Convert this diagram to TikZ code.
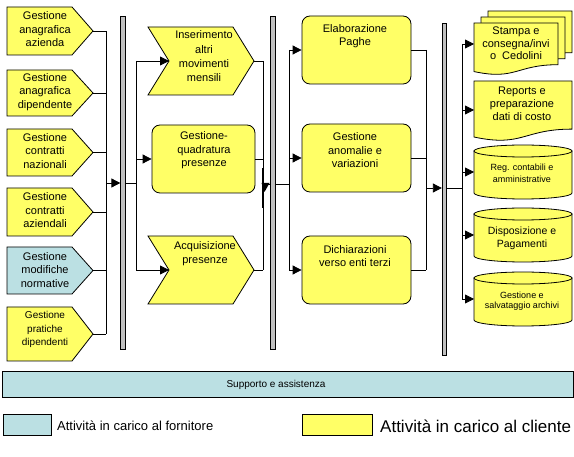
\documentclass[tikz,border=0pt]{standalone}
\usepackage{fontspec}
\setmainfont{Liberation Sans}
\usetikzlibrary{arrows.meta}

\definecolor{client}{HTML}{FFFF66}
\definecolor{vendor}{HTML}{BBE0E3}
\definecolor{bar fill}{HTML}{C0C0C0}
\tikzset{
  act/.style={draw=black, line width=0.8pt},  txt/.style={align=center, inner sep=0pt, font=\fontsize{11}{13.5}\selectfont}
  }
\tikzstyle{wire} = [draw, line width=0.8pt, -]
\tikzstyle{feed} = [draw, line width=0.8pt, -{Triangle[length=9pt,width=9pt]}]
\tikzstyle{task} = [act, fill=client, rounded corners=8pt, inner sep=0pt, minimum height=68pt]
\tikzstyle{phasebar} = [draw, fill=bar fill, line width=0.8pt, inner sep=0pt, minimum width=4.5pt]

% document sheet: x, y, width, height
\newcommand{\docpath}[4]{%
  \draw[act, fill=client] (#1,#2) -- (#1+#3,#2) -- (#1+#3,#2+0.802*#4)
    .. controls (#1+0.5*#3,#2+0.802*#4) and (#1+0.5*#3,#2+1.107*#4) .. (#1,#2+0.934*#4) -- cycle;}

\begin{document}
\begin{tikzpicture}[x=1pt, y=-1pt]
    \useasboundingbox (0,0) rectangle (574,457);

    % input activities
    \foreach \y/\h/\ty/\fs/\name/\col/\txt in {
        31/24/29.5/11/paz/client/{Gestione\\anagrafica\\azienda},
        93/23/92/11/pdip/client/{Gestione\\anagrafica\\dipendente},
        152.5/23.5/151/11/pnaz/client/{Gestione\\contratti\\nazionali},
        212/24/210.5/11/pazi/client/{Gestione\\contratti\\aziendali},
        270.5/23.5/270/11/pnorm/vendor/{Gestione\\modifiche\\normative},
        334/27/329.5/10/pprat/client/{Gestione\\pratiche\\dipendenti}}
    {
      \draw[act, fill=\col] (7,\y-\h) -- (72,\y-\h) -- (93,\y) -- (72,\y+\h) -- (7,\y+\h) -- cycle;
      \node[txt, font=\fontsize{\fs}{13.5}\selectfont] (\name) at (45,\ty) {\txt};
      \coordinate (\name-out) at (93,\y);
    }

    % monthly input
    \draw[act, fill=client] (148,27) -- (233,27) -- (254,61) -- (233,95) -- (148,95) -- (169,61) -- cycle;
    \coordinate (ins-in) at (169,61);
    \coordinate (ins-out) at (254,61);
    \node[txt, font=\fontsize{11}{14.3}\selectfont] (ins) at (204,56.5) {Inserimento\\altri\\movimenti\\mensili};

    \node[task, minimum width=103pt] (quad) at (203.5,159) {};
    \node[txt] (quad-t) at (204,150.5) {Gestione-\\quadratura\\presenze};

    \draw[act, fill=client] (148,236) -- (233,236) -- (254,270) -- (233,304) -- (148,304) -- (169,270) -- cycle;
    \coordinate (acq-in) at (169,270);
    \coordinate (acq-out) at (254,270);
    \node[txt] (acq) at (205,253.5) {Acquisizione\\presenze};

    % processing
    \node[task, minimum width=109pt] (elab) at (356.5,50) {};
    \node[task, minimum width=109pt] (anom) at (356.5,158) {};
    \node[task, minimum width=109pt] (dich) at (356.5,270) {};
    \node[txt] (elab-t) at (355,36) {Elaborazione\\Paghe};
    \node[txt] (anom-t) at (355,150.5) {Gestione\\anomalie e\\variazioni};
    \node[txt] (dich-t) at (355,256) {Dichiarazioni\\verso enti terzi};

    % outputs
    \docpath{488}{11}{84}{52}
    \docpath{481}{17}{84}{52}
    \docpath{474}{23}{84}{52}
    \coordinate (stp-in) at (474,44);
    \node[txt, font=\fontsize{11}{12.5}\selectfont] (stp) at (516,43.5) {Stampa e\\consegna/invi\\o\ \ Cedolini};

    \docpath{474}{81}{98}{60}
    \coordinate (rep-in) at (474,110);
    \node[txt, font=\fontsize{11}{13}\selectfont] (rep) at (522,104) {Reports e\\preparazione\\dati di costo};

    \foreach \t/\name in {145/reg, 208/disp, 272/arch}
    {
      \draw[act, fill=client] (474,\t+6) -- (474,\t+48) arc[start angle=180, end angle=0, x radius=49, y radius=6] -- (572,\t+6) -- cycle;
      \draw[act, fill=client] (523,\t+6) ellipse [x radius=49, y radius=6];
      \coordinate (\name-in) at (474,\t+27);
    }
    \node[txt, font=\fontsize{9}{11.5}\selectfont] (reg) at (522,173.5) {Reg. contabili e\\amministrative};
    \node[txt, font=\fontsize{10.5}{13}\selectfont] (disp) at (522,238.5) {Disposizione e\\Pagamenti};
    \node[txt, font=\fontsize{9}{10.5}\selectfont] (arch) at (522,301) {Gestione e\\salvataggio archivi};

    % phase bars
    \node[phasebar, minimum height=333pt] (bar1) at (123,182.5) {};
    \node[phasebar, minimum height=333pt] (bar2) at (273,182.5) {};
    \node[phasebar, minimum height=332pt] (bar3) at (444.5,189) {};

    % connectors
    \coordinate (j1) at (106,183);
    \coordinate (j2) at (136,183);
    \coordinate (j3) at (263,184);
    \coordinate (j4) at (289,184);
    \coordinate (j5) at (426,188);
    \coordinate (j6) at (462,188);

    \foreach \n in {paz,pdip,pnaz,pazi,pnorm,pprat}
      \path[wire] (\n-out) -- (\n-out -| j1);
    \path[wire] (paz-out -| j1) -- (pprat-out -| j1);
    \path[feed] (j1) -- (j1 -| bar1.west);

    \path[wire] (j2 -| bar1.east) -- (j2);
    \path[wire] (ins-in -| j2) -- (acq-in -| j2);
    \foreach \n in {ins-in, quad.west, acq-in}
      \path[feed] (\n -| j2) -- (\n);

    \foreach \n in {ins-out, quad.east, acq-out}
      \path[wire] (\n) -- (\n -| j3);
    \path[wire] (ins-out -| j3) -- (acq-out -| j3);
    \path[wire] (j3) -- (j3 -| bar2.west);
    \fill ([xshift=-1.5pt,yshift=1pt]j3) -- ++(8,0) -- ++(-5,9) -- cycle;
    \draw[line width=1.6pt] ([yshift=16pt]j3) -- ++(0,40);

    \path[wire] (j4 -| bar2.east) -- (j4);
    \path[wire] (elab.west -| j4) -- (dich.west -| j4);
    \foreach \n in {elab,anom,dich}
      \path[feed] (\n.west -| j4) -- (\n.west);

    \foreach \n in {elab,anom,dich}
      \path[wire] (\n.east) -- (\n.east -| j5);
    \path[wire] (elab.east -| j5) -- (dich.east -| j5);
    \path[feed] (j5) -- (j5 -| bar3.west);

    \path[wire] (j6 -| bar3.east) -- (j6);
    \path[wire] (stp-in -| j6) -- (arch-in -| j6);
    \foreach \n in {stp-in, rep-in, reg-in, disp-in, arch-in}
      \path[feed] (\n -| j6) -- (\n);

    % support and legend
    \node[act, fill=vendor, minimum width=571pt, minimum height=26pt, inner sep=0pt] (supp) at (287.5,384) {};
    \node[txt, anchor=base, font=\fontsize{10}{12}\selectfont] (supp-t) at (276,387.5) {Supporto e assistenza};

    \node[act, fill=vendor, minimum width=48pt, minimum height=21pt, inner sep=0pt] (key-v) at (27,424.5) {};
    \node[txt, anchor=base west, font=\fontsize{13}{15}\selectfont] (key-vt) at (57,431) {Attività in carico al fornitore};
    \node[act, fill=client, minimum width=70pt, minimum height=21pt, inner sep=0pt] (key-c) at (337,424.5) {};
    \node[txt, anchor=base west, font=\fontsize{17}{19}\selectfont] (key-ct) at (380,433) {Attività in carico al cliente};

\end{tikzpicture}
\end{document}
